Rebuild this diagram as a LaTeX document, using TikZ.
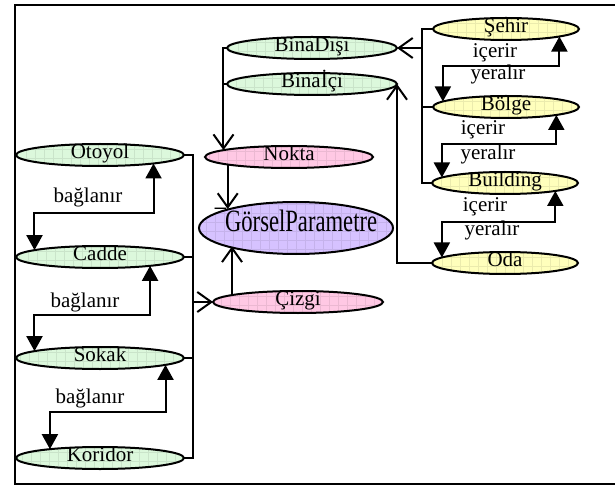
\documentclass[tikz,border=0pt]{standalone}
\usepackage{fontspec}
\setmainfont{Liberation Serif}
\usepackage{tikz}
\definecolor{placegreen}{RGB}{220,248,220}
\definecolor{geompink}{RGB}{255,200,228}
\definecolor{parampurple}{RGB}{214,194,255}
\definecolor{regionyellow}{RGB}{255,255,188}
\usetikzlibrary{shapes.geometric,arrows.meta,calc}
\tikzset{%
  gridded/.style={fill=#1, path picture={\draw[#1!92!black, line width=0.5pt]
    (path picture bounding box.south west) grid[step=9pt] (path picture bounding box.north east);}},% checked fill
  concept/.style={draw, ellipse, line width=2pt, inner sep=0pt, outer sep=0pt,
    minimum width=168pt, minimum height=22pt, text height=0.66em, text depth=0pt,
    font=\fontsize{21}{24}\selectfont},% one concept of the ontology
  place/.style={concept, gridded=placegreen},% roads and buildings
  geom/.style={concept, gridded=geompink},% point / line
  region/.style={concept, gridded=regionyellow, minimum width=146pt},% city ... room
  param/.style={concept, gridded=parampurple, minimum width=194pt, minimum height=52pt,
    inner xsep=-30pt, font=\fontsize{31}{34}\selectfont},% visual parameter
  rel/.style={anchor=base, inner sep=0pt, font=\fontsize{21}{24}\selectfont},% relation name
  link/.style={line width=2pt},
  pairarrow/.style={link, {Triangle[length=15pt,width=16pt]}-{Triangle[length=15pt,width=16pt]}},% two-way relation
  isaarrow/.style={link, -{Straight Barb[length=14pt,width=20pt]}}% subclass arrow
}

\begin{document}
\begin{tikzpicture}[x=1pt,y=-1pt]
\useasboundingbox (0,0) rectangle (615,486);
\draw[line width=2pt] (615,5) -- (15,5) -- (15,484) -- (615,484);

% roads
\node[place] (otoyol) at (100,155) {Otoyol};
\node[place] (cadde) at (100,257) {Cadde};
\node[place] (sokak) at (100,358) {Sokak};
\node[place] (koridor) at (100,458) {Koridor};
\node[rel] (bag1) at (88,203) {bağlanır};
\node[rel] (bag2) at (85,307) {bağlanır};
\node[rel] (bag3) at (90,403) {bağlanır};
\draw[pairarrow] (otoyol.351.4) -- ++(0,50) -| (cadde.174.4);
\draw[pairarrow] (cadde.350.9) -- ++(0,49.5) -| (sokak.174.5);
\draw[pairarrow] (sokak.354.5) -- ++(0,47.5) -| (koridor.170.9);

% geometry
\node[geom] (nokta) at (289,157) {Nokta};
\node[param] (gorsel) at (296,228) {\scalebox{0.73}[1]{¯\kern-.05em GörselParametre}};
\node[geom, minimum width=170pt] (cizgi) at (298,302) {Çizgi};
\draw[isaarrow] (nokta.187.1) -- (nokta.187.1 |- gorsel.164.8);
\draw[isaarrow] (cizgi.174.7) -- (cizgi.174.7 |- gorsel.195.7);

\coordinate (lspine) at (193,0);
\draw[link] (otoyol.east) -- (otoyol.east -| lspine) -- (koridor.east -| lspine) -- (koridor.east);
\draw[link] (cadde.east) -- (cadde.east -| lspine);
\draw[link] (sokak.east) -- (sokak.east -| lspine);
\draw[isaarrow] (cizgi.west -| lspine) -- (cizgi.west);

% buildings
\node[place, minimum width=170pt] (binadisi) at (312,48) {BinaDışı};
\node[place, minimum width=170pt] (binaici) at (312,84) {Binaİçi};
\draw[isaarrow] (binadisi.west) -| (nokta.174.5);
\draw[link] (binaici.west) -- (binaici.west -| nokta.174.5);

% regions
\node[region] (sehir) at (506,29) {Şehir};
\node[region] (bolge) at (506,107) {Bölge};
\node[region] (building) at (505,183) {Building};
\node[region] (oda) at (505,263) {Oda};
\node[rel] (icerir1) at (495,58) {içerir};
\node[rel] (yeralir1) at (498,80) {yeralır};
\node[rel] (icerir2) at (483,135) {içerir};
\node[rel] (yeralir2) at (488,160) {yeralır};
\node[rel] (icerir3) at (485,212) {içerir};
\node[rel] (yeralir3) at (492,236) {yeralır};
\draw[pairarrow] (sehir.352.2) -- ++(0,29.6) -| (bolge.175.6);
\draw[pairarrow] (bolge.351.6) -- ++(0,29.3) -| (building.175.6);
\draw[pairarrow] (building.351.8) -- ++(0,31.4) -| (oda.175.6);

\coordinate (rspine) at (422,0);
\draw[link] (sehir.west) -- (sehir.west -| rspine) -- (building.west -| rspine) -- (building.west);
\draw[link] (bolge.west) -- (bolge.west -| rspine);
\draw[isaarrow] (binadisi.east -| rspine) -- (binadisi.east);
\draw[isaarrow] (oda.west) -| (binaici.east);
\end{tikzpicture}
\end{document}
